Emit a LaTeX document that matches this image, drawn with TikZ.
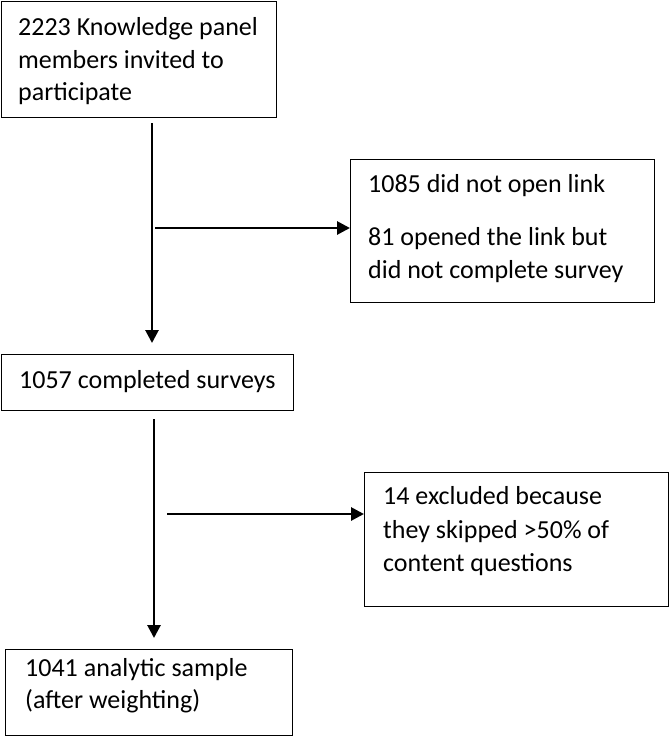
\documentclass[tikz,border=0pt]{standalone}
\usepackage{fontspec}
\setmainfont{Carlito}
\usetikzlibrary{arrows.meta}
\begin{document}
\begin{tikzpicture}[x=1pt,y=-1pt,
  box/.style={draw=black,line width=1.3pt},
  txt/.style={anchor=base west,inner sep=0pt,font=\fontsize{26}{33}\selectfont},
  flow/.style={line width=2.8pt,-{Triangle[length=13pt,width=13pt]}}]
\useasboundingbox (0,0) rectangle (669,737);
% boxes
\node[box,minimum width=275pt,minimum height=116pt,anchor=north west] (b1) at (1,1) {};
\node[box,minimum width=304pt,minimum height=143pt,anchor=north west] (b2) at (350,159) {};
\node[box,minimum width=292pt,minimum height=56pt,anchor=north west] (b3) at (1,354) {};
\node[box,minimum width=304pt,minimum height=134pt,anchor=north west] (b5) at (364,472) {};
\node[box,minimum width=287pt,minimum height=86pt,anchor=north west] (b4) at (5,649) {};
% texts
\node[txt] (t1a) at (18,35) {2223 Knowledge panel};
\node[txt] (t1b) at (18,68) {members invited to};
\node[txt] (t1c) at (18,100) {participate};
\node[txt] (t2a) at (368,192) {1085 did not open link};
\node[txt] (t2b) at (368,245) {81 opened the link but};
\node[txt] (t2c) at (368,278) {did not complete survey};
\node[txt] (t3a) at (19,388) {1057 completed surveys};
\node[txt] (t5a) at (383,504) {14 excluded because};
\node[txt] (t5b) at (383,538) {they skipped >50\% of};
\node[txt] (t5c) at (383,571) {content questions};
\node[txt] (t4a) at (25,676) {1041 analytic sample};
\node[txt] (t4b) at (25,708) {(after weighting)};
% connectors
\coordinate (v1s) at (152,123);
\coordinate (v1e) at (152,343);
\coordinate (h1s) at (155,228);
\coordinate (v2s) at (154,419);
\coordinate (v2e) at (154,638);
\coordinate (h2s) at (167,514);
\draw[flow] (v1s) -- (v1e);
\draw[flow] (h1s) -- (h1s -| b2.west);
\draw[flow] (v2s) -- (v2e);
\draw[flow] (h2s) -- (h2s -| b5.west);
\end{tikzpicture}
\end{document}
